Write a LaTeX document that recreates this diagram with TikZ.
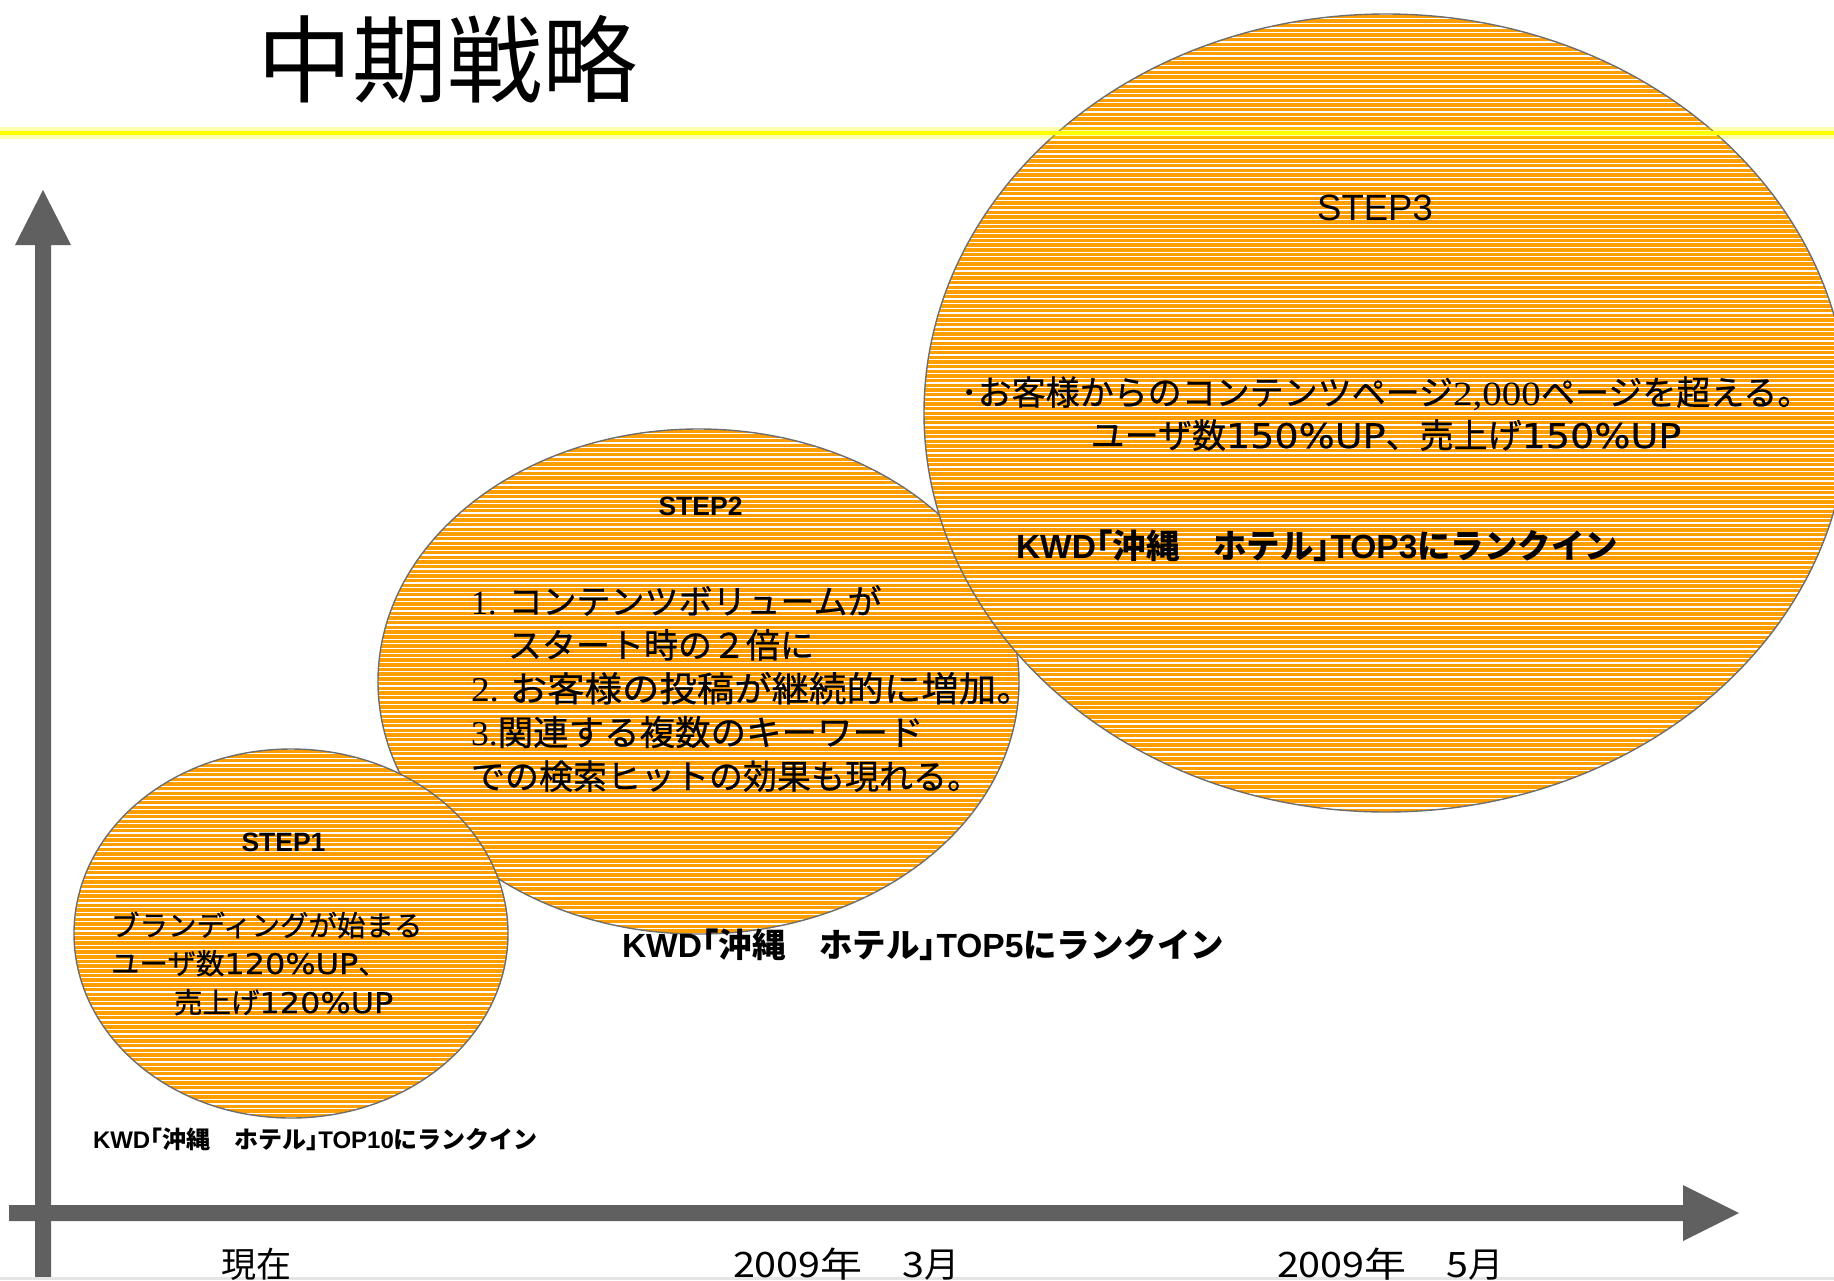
\documentclass[tikz,border=0pt]{standalone}
\usepackage{graphicx}
\usepackage{fontspec}
\setmainfont{Noto Sans CJK JP}
\newfontfamily\jpbody[FakeBold=0.7]{Noto Sans CJK JP}
\newfontfamily\jpwide[FakeStretch=1.13]{Noto Sans CJK JP}
\newfontfamily\lsans{Liberation Sans}
\newfontfamily\lserif{Liberation Serif}
\newfontfamily\wsans[FakeStretch=1.12,FakeBold=0.5]{DejaVu Sans}
\newfontfamily\wserif[FakeStretch=1.15]{Liberation Serif}
\usetikzlibrary{shapes.geometric}
\definecolor{orfill}{RGB}{255,158,0}
\definecolor{edgegray}{RGB}{110,110,110}
\definecolor{axisgray}{RGB}{96,96,96}
\definecolor{glowyellow}{RGB}{255,255,0}
\newcommand{\fs}[1]{\fontsize{#1}{#1}\selectfont}
\newcommand{\hw}[1]{{\addfontfeature{RawFeature=+halt}#1}}
\tikzset{
  bubble/.style={ellipse, draw=edgegray, line width=1.4pt, fill=orfill,
    inner sep=0pt, outer sep=0pt,
    path picture={\foreach \k in {0,...,175}{
      \draw[white,line width=1.3pt]
        ([yshift={-\k*4.67pt}]path picture bounding box.north west) --
        ([yshift={-\k*4.67pt}]path picture bounding box.north east);}}},
  txt/.style={inner sep=0pt, outer sep=0pt, text=black},
  axisfill/.style={fill=axisgray},
}
\begin{document}
\begin{tikzpicture}[x=1pt,y=-1pt]
\useasboundingbox (0,0) rectangle (1834,1280);
\clip (0,0) rectangle (1834,1280);
\fill[white] (0,0) rectangle (1834,1280);

% title
\node[txt, anchor=base west] (title) at (257,95) {\fs{95}中期戦略};

% bubbles
\node[bubble, minimum width=641pt, minimum height=505pt] (e2) at (698.5,681.5) {};
\node[bubble, minimum width=434pt, minimum height=369pt] (e1) at (291,933.5) {};
\node[bubble, minimum width=924pt, minimum height=798pt] (e3) at (1386,413) {};

% yellow rule
\draw[glowyellow, line width=12pt, opacity=0.3] (0,133) -- (1834,133);
\draw[glowyellow, line width=4pt] (0,133) -- (1834,133);

% axes
\coordinate (ytip) at (43,190);
\coordinate (xtip) at (1739,1213);
\fill[axisfill] (35,1277) -- (35,245) -- (15,245) -- (ytip) -- (71,245) -- (51,245) -- (51,1277) -- cycle;
\fill[axisfill] (9,1205) -- (1683,1205) -- (1683,1185) -- (xtip) -- (1683,1241) -- (1683,1221) -- (9,1221) -- cycle;
\fill[black!10] (0,1277) rectangle (1834,1280);

% STEP1
\node[txt, anchor=base] (step1) at (283.5,851) {\lsans\bfseries\fs{26.5}STEP1};
\node[txt, anchor=base west] (e1a) at (111,936) {\jpbody\fs{28.5}ブランディングが始まる};
\node[txt, anchor=base west] (e1b) at (111,974) {\jpbody\fs{28.5}ユーザ数{\wsans 120\%UP}、};
\node[txt, anchor=base west] (e1c) at (174,1013) {\jpbody\fs{28.5}売上げ{\wsans 120\%UP}};
\node[txt, anchor=base west] (kwd10) at (93,1148) {\bfseries\fs{24}{\lsans KWD}\hw{「}沖縄　ホテル\hw{」}{\lsans TOP10}にランクイン};

% STEP2
\node[txt, anchor=base] (step2) at (700.5,515) {\lsans\bfseries\fs{26.5}STEP2};
\node[txt, anchor=base west] (e2a) at (471,614) {\jpbody\fs{34}{\lserif 1.}\hspace{12pt}コンテンツボリュームが};
\node[txt, anchor=base west] (e2b) at (508,657.75) {\jpbody\fs{34}スタート時の２倍に};
\node[txt, anchor=base west] (e2c) at (471,701.5) {\scalebox{1.075}[1]{\jpbody\fs{34.8}{\lserif 2.}\hspace{10pt}お客様の投稿が継続的に増加。}};
\node[txt, anchor=base west] (e2d) at (471,745.25) {\scalebox{1.02}[1]{\jpbody\fs{34.8}{\lserif 3.}関連する複数のキーワード}};
\node[txt, anchor=base west] (e2e) at (471,789) {\jpbody\fs{34}での検索ヒットの効果も現れる。};
\node[txt, anchor=base west] (kwd5) at (622,957) {\bfseries\fs{33.5}{\lsans KWD}\hw{「}沖縄　ホテル\hw{」}{\lsans TOP5}にランクイン};

% STEP3
\node[txt, anchor=base] (step3) at (1375,220) {\lsans\fs{36.5}STEP3};
\node[txt, anchor=base] (e3a) at (1386,405) {\jpbody\fs{34}･お客様からのコンテンツページ{\wserif 2,000}ページを超える。};
\node[txt, anchor=base] (e3b) at (1386,448) {\jpbody\fs{34}ユーザ数{\wsans 150\%UP}、売上げ{\wsans 150\%UP}};
\node[txt, anchor=base west] (kwd3) at (1016,558) {\bfseries\fs{33.5}{\lsans KWD}\hw{「}沖縄　ホテル\hw{」}{\lsans TOP3}にランクイン};

% time labels
\node[txt, anchor=base west] (tnow) at (221,1277) {\fs{35}現在};
\node[txt, anchor=base west] (tmar) at (733,1277) {\fs{35}{\jpwide 2009}\scalebox{1.2}[1]{年}\hspace{40pt}{\jpwide 3}月};
\node[txt, anchor=base west] (tmay) at (1277,1277) {\fs{35}{\jpwide 2009}\scalebox{1.2}[1]{年}\hspace{40pt}{\jpwide 5}月};
\end{tikzpicture}
\end{document}
